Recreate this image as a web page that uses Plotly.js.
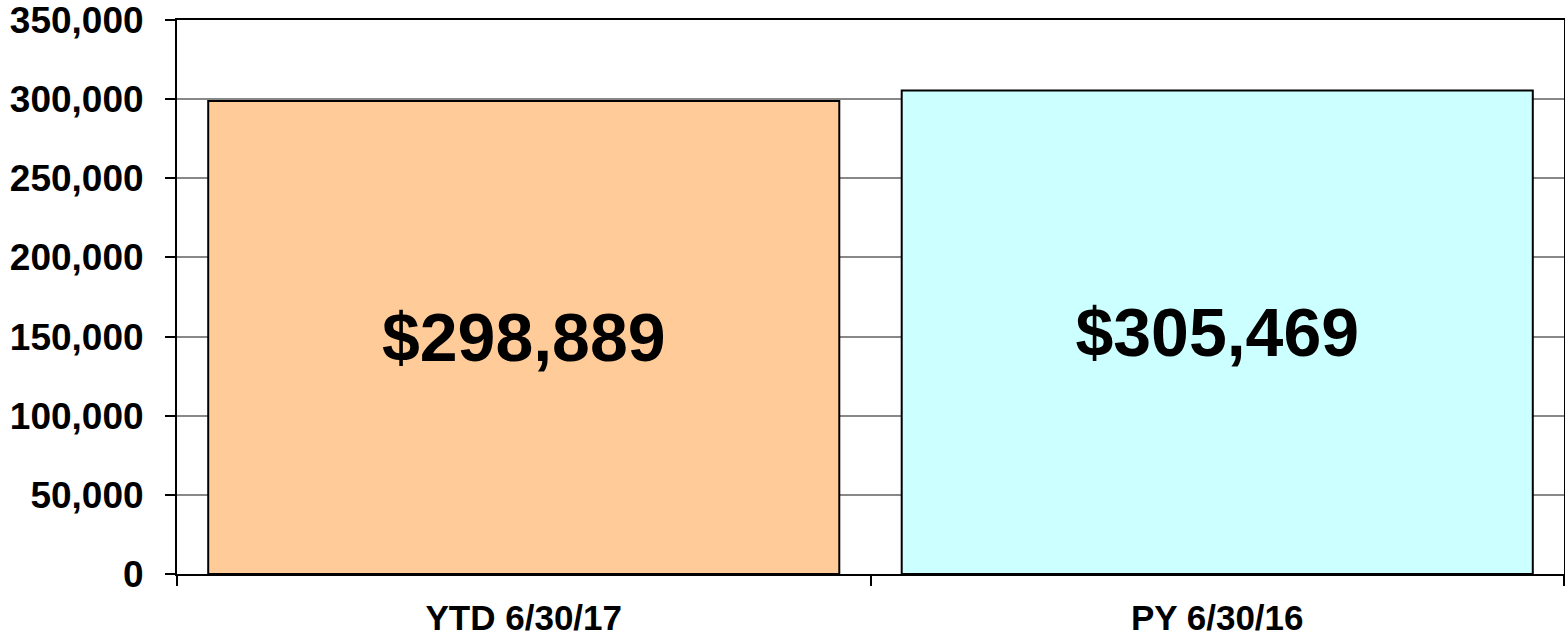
<!DOCTYPE html>
<html>
<head>
<meta charset="utf-8">
<script src="https://cdn.plot.ly/plotly-3.0.1.min.js"></script>
<style>
html,body{margin:0;padding:0;background:#fff;}
#chart{width:1565px;height:641px;}
</style>
</head>
<body>
<div id="chart"></div>
<script>
const categories = ["YTD 6/30/17", "PY 6/30/16"];
const values = [298889, 305469];
const barColors = ["#FFCC99", "#CCFFFF"];
const yTickVals = [0, 50000, 100000, 150000, 200000, 250000, 300000, 350000];
const yTickText = ["0", "50,000", "100,000", "150,000", "200,000", "250,000", "300,000", "350,000"];

const FONT = "'Liberation Sans', Arial, sans-serif";

const trace = {
  type: "bar",
  x: categories,
  y: values,
  marker: {color: barColors, line: {color: "#000", width: 2}},
  texttemplate: "$%{y:,}",
  textposition: "inside",
  insidetextanchor: "middle",
  textangle: 0,
  textfont: {family: FONT, size: 68, color: "#000", weight: "bold"},
  constraintext: "none",
  hoverinfo: "none"
};

const layout = {
  width: 1565,
  height: 641,
  margin: {l: 177, r: 1, t: 20, b: 67},
  paper_bgcolor: "#fff",
  plot_bgcolor: "#fff",
  bargap: 0.09,
  showlegend: false,
  font: {family: FONT, color: "#000", weight: "bold"},
  xaxis: {
    type: "category",
    showline: true, linecolor: "#000", linewidth: 2, mirror: true,
    ticks: "outside", tickson: "boundaries", ticklen: 10, tickwidth: 2, tickcolor: "#000",
    tickfont: {family: FONT, size: 35, color: "#000", weight: "bold"},
    ticklabelstandoff: 12,
    ticklabeloverflow: "allow",
    showgrid: false, zeroline: false
  },
  yaxis: {
    range: [0, 350000],
    tickvals: yTickVals,
    ticktext: yTickText,
    showline: true, linecolor: "#000", linewidth: 2, mirror: true,
    ticks: "outside", ticklen: 10, tickwidth: 2, tickcolor: "#000",
    tickfont: {family: FONT, size: 37, color: "#000", weight: "bold"},
    ticklabelstandoff: 14,
    ticklabeloverflow: "allow",
    showgrid: true, gridcolor: "#888", gridwidth: 2,
    zeroline: false
  }
};

Plotly.newPlot("chart", [trace], layout, {staticPlot: true, displayModeBar: false});
</script>
</body>
</html>
